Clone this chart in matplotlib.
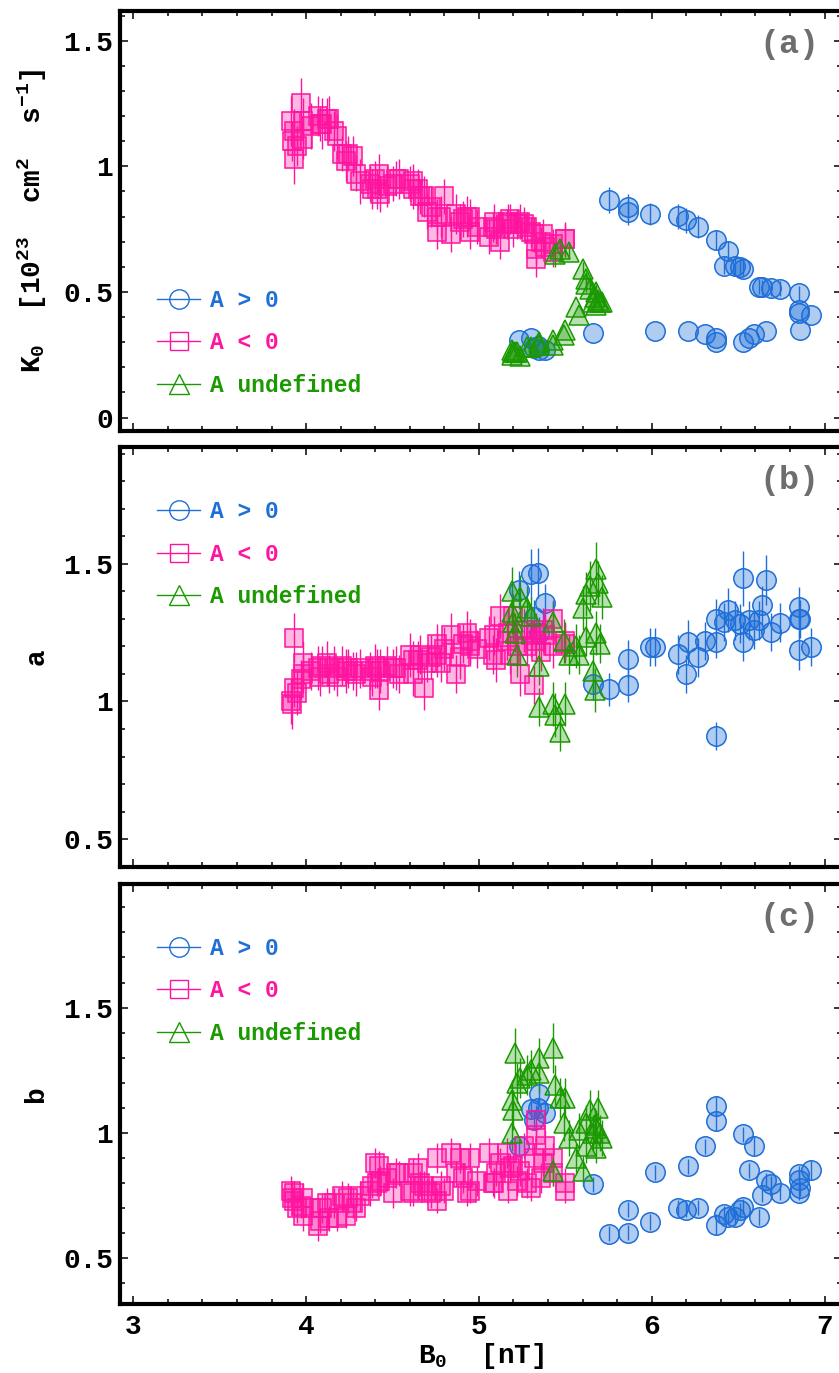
import matplotlib
matplotlib.use("Agg")
import matplotlib.pyplot as plt
from matplotlib.lines import Line2D
from matplotlib.ticker import MultipleLocator, FuncFormatter
from matplotlib.colors import to_rgba

# ###########################################
# Data
# ###########################################

# A > 0 (blue circles)
blue_b0 = [5.23, 5.30, 5.32, 5.34, 5.35, 5.38, 5.66, 5.75, 5.86, 5.86, 5.99, 6.02,
           6.15, 6.20, 6.21, 6.27, 6.31, 6.37, 6.37, 6.37, 6.42, 6.44, 6.48, 6.51,
           6.53, 6.53, 6.56, 6.59, 6.62, 6.64, 6.66, 6.69, 6.74, 6.85, 6.85, 6.85,
           6.86, 6.92]
blue_k0 = [0.31, 0.316, 0.276, 0.285, 0.269, 0.27, 0.338, 0.866, 0.839, 0.817, 0.81, 0.345,
           0.802, 0.786, 0.345, 0.76, 0.332, 0.707, 0.316, 0.302, 0.605, 0.664, 0.605, 0.601,
           0.593, 0.302, 0.316, 0.332, 0.521, 0.519, 0.345, 0.515, 0.513, 0.428, 0.415, 0.495,
           0.349, 0.409]
blue_k0_err = [0.0, 0.0, 0.0, 0.0, 0.0, 0.0, 0.0, 0.05, 0.05, 0.05, 0.045, 0.0,
               0.05, 0.05, 0.0, 0.045, 0.0, 0.04, 0.0, 0.0, 0.035, 0.04, 0.035, 0.035,
               0.035, 0.0, 0.0, 0.0, 0.03, 0.03, 0.0, 0.03, 0.03, 0.0, 0.0, 0.03,
               0.0, 0.0]
blue_a = [1.404, 1.462, 1.307, 1.467, 1.247, 1.356, 1.065, 1.044, 1.154, 1.059, 1.198, 1.198,
          1.171, 1.099, 1.217, 1.16, 1.219, 1.301, 1.217, 0.874, 1.289, 1.332, 1.295, 1.283,
          1.447, 1.217, 1.295, 1.259, 1.295, 1.35, 1.441, 1.253, 1.286, 1.186, 1.301, 1.344,
          1.30, 1.198]
blue_a_err = [0.07, 0.09, 0.06, 0.09, 0.06, 0.07, 0.06, 0.06, 0.07, 0.06, 0.07, 0.07,
              0.07, 0.07, 0.08, 0.07, 0.07, 0.07, 0.06, 0.05, 0.07, 0.08, 0.07, 0.07,
              0.10, 0.07, 0.07, 0.07, 0.07, 0.07, 0.09, 0.07, 0.07, 0.07, 0.07, 0.07,
              0.07, 0.07]
blue_b = [0.947, 1.097, 1.051, 1.10, 1.154, 1.08, 0.795, 0.599, 0.694, 0.603, 0.645, 0.844,
          0.701, 0.694, 0.868, 0.701, 0.947, 1.108, 1.048, 0.635, 0.678, 0.665, 0.665, 0.692,
          0.705, 0.995, 0.851, 0.947, 0.665, 0.754, 0.811, 0.798, 0.761, 0.761, 0.838, 0.814,
          0.78, 0.851]
blue_b_err = [0.03, 0.04, 0.04, 0.04, 0.04, 0.04, 0.03, 0.03, 0.03, 0.03, 0.03, 0.03,
              0.03, 0.03, 0.03, 0.03, 0.03, 0.04, 0.04, 0.04, 0.03, 0.03, 0.03, 0.03,
              0.03, 0.03, 0.03, 0.04, 0.03, 0.03, 0.03, 0.03, 0.03, 0.03, 0.03, 0.04,
              0.03, 0.04]

# A < 0 (pink squares)
pink_b0 = [3.91, 3.92, 3.93, 3.93, 3.95, 3.97, 3.98, 3.98,
           4.03, 4.07, 4.08, 4.09, 4.12, 4.13, 4.16, 4.18,
           4.21, 4.23, 4.24, 4.27, 4.29, 4.31,
           4.37, 4.38, 4.40, 4.41, 4.42, 4.43,
           4.47, 4.50, 4.52, 4.54,
           4.60, 4.62, 4.62, 4.65, 4.66, 4.68,
           4.70, 4.72, 4.76, 4.76, 4.78, 4.80,
           4.84, 4.87, 4.89, 4.91, 4.93, 4.95, 4.95, 4.99,
           5.06, 5.08, 5.09, 5.10, 5.12,
           5.16, 5.17, 5.18, 5.20, 5.22, 5.24, 5.26, 5.28,
           5.30, 5.32, 5.33, 5.33, 5.36, 5.37, 5.38,
           5.43, 5.43, 5.50, 5.50]
pink_k0 = [1.18, 1.10, 1.14, 1.03, 1.08, 1.25, 1.18, 1.11,
           1.16, 1.20, 1.17, 1.17, 1.19, 1.19, 1.14, 1.12,
           1.05, 1.02, 1.05, 1.04, 0.97, 0.94,
           0.93, 0.91, 0.95, 0.91, 0.97, 0.89,
           0.92, 0.93, 0.95, 0.95,
           0.93, 0.91, 0.94, 0.91, 0.88, 0.88,
           0.82, 0.84, 0.80, 0.74, 0.80, 0.88,
           0.73, 0.81, 0.78, 0.79, 0.80, 0.80, 0.74, 0.76,
           0.72, 0.76, 0.78, 0.75, 0.70,
           0.77, 0.78, 0.79, 0.75, 0.77, 0.78, 0.77, 0.76,
           0.74, 0.73, 0.67, 0.63, 0.70, 0.73, 0.68,
           0.69, 0.66, 0.71, 0.71]
pink_k0_err = [0.10, 0.08, 0.09, 0.10, 0.08, 0.10, 0.09, 0.08,
               0.09, 0.08, 0.07, 0.10, 0.08, 0.09, 0.08, 0.09,
               0.07, 0.08, 0.07, 0.08, 0.07, 0.09,
               0.07, 0.08, 0.07, 0.08, 0.08, 0.07,
               0.08, 0.07, 0.07, 0.08,
               0.07, 0.08, 0.07, 0.08, 0.07, 0.08,
               0.07, 0.08, 0.07, 0.07, 0.08, 0.07,
               0.07, 0.08, 0.07, 0.07, 0.08, 0.07, 0.07, 0.07,
               0.07, 0.06, 0.07, 0.06, 0.07,
               0.06, 0.07, 0.06, 0.07, 0.06, 0.07, 0.07, 0.06,
               0.06, 0.07, 0.06, 0.07, 0.06, 0.06, 0.06,
               0.06, 0.06, 0.07, 0.06]
pink_a = [1.00, 0.99, 1.05, 1.23, 1.03, 1.08, 1.14, 1.10,
          1.11, 1.12, 1.09, 1.13, 1.14, 1.10, 1.12, 1.09,
          1.13, 1.11, 1.12, 1.11, 1.10, 1.12,
          1.11, 1.09, 1.13, 1.12, 1.04, 1.11,
          1.13, 1.12, 1.12, 1.10,
          1.17, 1.15, 1.10, 1.15, 1.17, 1.05,
          1.14, 1.16, 1.21, 1.17, 1.14, 1.19,
          1.24, 1.10, 1.16, 1.21, 1.25, 1.20, 1.22, 1.19,
          1.23, 1.17, 1.24, 1.15, 1.31,
          1.22, 1.25, 1.17, 1.31, 1.20, 1.10, 1.26, 1.20,
          1.24, 1.06, 1.22, 1.25, 1.18, 1.26, 1.24,
          1.30, 1.20, 1.22, 1.21]
pink_a_err = [0.08, 0.09, 0.07, 0.09, 0.08, 0.07, 0.08, 0.07,
              0.07, 0.08, 0.07, 0.07, 0.08, 0.07, 0.08, 0.07,
              0.07, 0.08, 0.07, 0.07, 0.08, 0.07,
              0.07, 0.07, 0.08, 0.07, 0.07, 0.08,
              0.07, 0.07, 0.08, 0.07,
              0.08, 0.07, 0.08, 0.07, 0.07, 0.08,
              0.07, 0.08, 0.07, 0.08, 0.07, 0.08,
              0.08, 0.07, 0.08, 0.07, 0.08, 0.07, 0.08, 0.07,
              0.08, 0.07, 0.07, 0.08, 0.08,
              0.07, 0.08, 0.07, 0.08, 0.07, 0.08, 0.08, 0.07,
              0.08, 0.07, 0.08, 0.07, 0.07, 0.08, 0.07,
              0.07, 0.08, 0.07, 0.07]
pink_b = [0.77, 0.74, 0.76, 0.73, 0.70, 0.71, 0.67, 0.74,
          0.70, 0.63, 0.65, 0.70, 0.72, 0.66, 0.72, 0.66,
          0.75, 0.67, 0.74, 0.72, 0.70, 0.75,
          0.77, 0.79, 0.88, 0.80, 0.87, 0.81,
          0.82, 0.76, 0.84, 0.84,
          0.77, 0.76, 0.84, 0.86, 0.80, 0.79,
          0.77, 0.76, 0.90, 0.73, 0.79, 0.77,
          0.92, 0.84, 0.90, 0.82, 0.76, 0.90, 0.77, 0.81,
          0.92, 0.80, 0.80, 0.84, 0.88,
          0.92, 0.77, 0.86, 0.87, 0.81, 0.85, 0.95, 0.80,
          0.78, 0.90, 1.05, 0.99, 0.82, 0.88, 0.95,
          0.90, 0.84, 0.80, 0.77]
pink_b_err = [0.06, 0.07, 0.05, 0.06, 0.06, 0.05, 0.06, 0.06,
              0.05, 0.06, 0.05, 0.06, 0.06, 0.05, 0.06, 0.05,
              0.06, 0.05, 0.06, 0.06, 0.05, 0.06,
              0.06, 0.05, 0.06, 0.05, 0.06, 0.06,
              0.05, 0.06, 0.06, 0.05,
              0.06, 0.05, 0.06, 0.06, 0.05, 0.06,
              0.05, 0.06, 0.06, 0.05, 0.06, 0.05,
              0.06, 0.05, 0.06, 0.06, 0.05, 0.06, 0.05, 0.06,
              0.06, 0.05, 0.06, 0.05, 0.06,
              0.06, 0.05, 0.06, 0.05, 0.06, 0.06, 0.05, 0.06,
              0.05, 0.06, 0.06, 0.05, 0.06, 0.05, 0.06,
              0.06, 0.05, 0.06, 0.05]

# A undefined (green triangles)
green_b0 = [5.19, 5.19, 5.20, 5.21, 5.22, 5.24, 5.28, 5.30, 5.35, 5.35,
            5.43, 5.43, 5.44, 5.47, 5.49, 5.50, 5.52, 5.56, 5.58, 5.60,
            5.62, 5.62, 5.64, 5.66, 5.67, 5.68, 5.68, 5.69, 5.70, 5.71]
green_k0 = [0.25, 0.27, 0.26, 0.26, 0.26, 0.245, 0.28, 0.28, 0.30, 0.29,
            0.29, 0.31, 0.65, 0.67, 0.33, 0.35, 0.66, 0.44, 0.41, 0.59,
            0.55, 0.53, 0.51, 0.46, 0.48, 0.50, 0.45, 0.47, 0.46, 0.46]
green_k0_err = [0.0, 0.0, 0.0, 0.0, 0.0, 0.0, 0.0, 0.0, 0.0, 0.0,
                0.0, 0.0, 0.05, 0.04, 0.0, 0.0, 0.03, 0.0, 0.0, 0.03,
                0.03, 0.03, 0.03, 0.0, 0.0, 0.03, 0.0, 0.0, 0.0, 0.0]
green_a = [1.325, 1.40, 1.29, 1.25, 1.17, 1.38, 1.34, 1.31, 1.13, 0.98,
           0.99, 1.29, 0.95, 0.89, 1.22, 0.99, 1.17, 1.20, 1.17, 1.34,
           1.39, 1.235, 1.42, 1.11, 1.04, 1.48, 1.25, 1.43, 1.21, 1.38]
green_a_err = [0.08, 0.09, 0.08, 0.07, 0.08, 0.08, 0.08, 0.07, 0.07, 0.07,
               0.08, 0.07, 0.08, 0.07, 0.08, 0.08, 0.07, 0.08, 0.07, 0.08,
               0.08, 0.07, 0.09, 0.08, 0.08, 0.10, 0.08, 0.08, 0.07, 0.08]
green_b = [1.13, 1.00, 1.09, 1.32, 1.20, 1.22, 1.23, 1.25, 1.30, 1.24,
           1.34, 0.85, 1.19, 1.14, 1.04, 1.14, 0.98, 0.90, 1.01, 0.85,
           1.04, 0.95, 1.09, 1.00, 1.03, 1.02, 0.94, 1.10, 1.00, 0.98]
green_b_err = [0.08, 0.07, 0.08, 0.10, 0.08, 0.08, 0.08, 0.08, 0.08, 0.08,
               0.10, 0.06, 0.08, 0.08, 0.07, 0.08, 0.07, 0.06, 0.07, 0.06,
               0.07, 0.07, 0.08, 0.07, 0.07, 0.07, 0.06, 0.07, 0.07, 0.07]

legend_labels = ["A > 0", "A < 0", "A undefined"]
panel_tags = ["(a)", "(b)", "(c)"]

# ###########################################
# Style
# ###########################################
BLUE = "#1f6fd8"
PINK = "#ff14a0"
GREEN = "#1a9a00"
MONO = "Liberation Mono"

plt.rcParams['font.family'] = [MONO, 'DejaVu Sans Mono']
plt.rcParams['font.weight'] = 'bold'
plt.rcParams['mathtext.fontset'] = 'custom'
plt.rcParams['mathtext.rm'] = MONO + ':bold'
plt.rcParams['mathtext.it'] = MONO + ':bold'
plt.rcParams['mathtext.bf'] = MONO + ':bold'


def fmt(v, pos):
    return "%g" % v


def drawSeries(ax, x, y, err, marker, color, alpha, ms):
    ax.errorbar(x, y, yerr=err, fmt=marker, ms=ms, mfc=to_rgba(color, alpha),
                mec=color, mew=1.1, ecolor=color, elinewidth=1.0, capsize=0,
                linestyle='none')


def drawPanel(ax, ys, errs, ylim, yticks, ylabel, tag, legend_y):
    # series: blue first, then pink, then green on top
    drawSeries(ax, blue_b0, ys[0], errs[0], 'o', BLUE, 0.35, 14)
    drawSeries(ax, pink_b0, ys[1], errs[1], 's', PINK, 0.30, 13.5)
    drawSeries(ax, green_b0, ys[2], errs[2], '^', GREEN, 0.30, 15)

    ax.set_xlim(2.923, 7.101)
    ax.set_ylim(*ylim)
    ax.xaxis.set_major_locator(MultipleLocator(1))
    ax.xaxis.set_minor_locator(MultipleLocator(0.2))
    ax.set_yticks(yticks)
    ax.yaxis.set_minor_locator(MultipleLocator(0.1))
    ax.yaxis.set_major_formatter(FuncFormatter(fmt))
    ax.xaxis.set_major_formatter(FuncFormatter(fmt))

    ax.tick_params(which='both', direction='in', top=True, right=True,
                   labelsize=20, width=1.1, pad=5)
    ax.tick_params(which='major', length=6)
    ax.tick_params(which='minor', length=3.5)
    for sp in ax.spines.values():
        sp.set_linewidth(3)

    ax.set_ylabel(ylabel, fontsize=20, fontweight='bold')
    ax.yaxis.set_label_coords(-0.098, 0.5)

    ax.text(0.9266, 0.921, tag, transform=ax.transAxes, ha='center', va='center',
            color='#6e6e6e', fontsize=24, fontweight='bold')

    # legend with open markers
    handles = [Line2D([], [], color=BLUE, marker='o', mfc='none', ms=14, lw=1),
               Line2D([], [], color=PINK, marker='s', mfc='none', ms=13, lw=1),
               Line2D([], [], color=GREEN, marker='^', mfc='none', ms=15, lw=1)]
    leg = ax.legend(handles, legend_labels, loc='center left',
                    bbox_to_anchor=(0.051, legend_y), frameon=False,
                    prop={'family': MONO, 'weight': 'bold', 'size': 16.5},
                    handlelength=1.9, handletextpad=0.4, labelspacing=0.85,
                    borderpad=0, borderaxespad=0)
    for t, c in zip(leg.get_texts(), [BLUE, PINK, GREEN]):
        t.set_color(c)


# ###########################################
# Main
# ###########################################
if __name__ == '__main__':
    W, H = 839, 1373
    fig = plt.figure(figsize=(W / 100, H / 100), dpi=100)

    left = 120 / W
    width = 722 / W
    ax_a = fig.add_axes([left, 1 - 430.7 / H, width, 419.7 / H])
    ax_b = fig.add_axes([left, 1 - 866.7 / H, width, 419.4 / H])
    ax_c = fig.add_axes([left, 1 - 1304 / H, width, 420 / H])

    drawPanel(ax_a, [blue_k0, pink_k0, green_k0],
              [blue_k0_err, pink_k0_err, green_k0_err],
              (-0.052, 1.618), [0, 0.5, 1, 1.5],
              r"K$_0$  [10$^{23}$  cm$^2$  s$^{-1}$]", panel_tags[0], 0.2097)
    drawPanel(ax_b, [blue_a, pink_a, green_a],
              [blue_a_err, pink_a_err, green_a_err],
              (0.40, 1.923), [0.5, 1, 1.5], "a", panel_tags[1], 0.745)
    drawPanel(ax_c, [blue_b, pink_b, green_b],
              [blue_b_err, pink_b_err, green_b_err],
              (0.318, 1.993), [0.5, 1, 1.5], "b", panel_tags[2], 0.746)

    ax_a.tick_params(labelbottom=False)
    ax_b.tick_params(labelbottom=False)
    ax_c.tick_params(axis='x', pad=7)
    ax_c.set_xlabel(r"B$_0$  [nT]", fontsize=20, fontweight='bold', labelpad=1)

    fig.savefig("out.png", dpi=100)
